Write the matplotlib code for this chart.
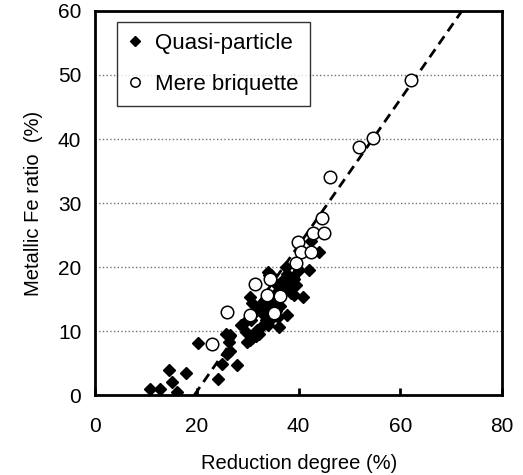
import numpy as np
import matplotlib.pyplot as plt

plt.rcParams['font.family'] = ['Liberation Sans', 'DejaVu Sans']

# Quasi-particle (filled diamonds)
quasi_x = [10.8, 12.7, 16.1, 14.5, 15.1, 17.9, 20.2, 24.1, 25.0, 27.8, 26.0, 26.6,
           26.3, 25.8, 26.6, 28.6, 29.6, 29.9, 30.4, 30.9, 31.6, 32.2, 30.6, 29.2,
           31.2, 31.9, 32.5, 32.9, 33.2, 33.9, 34.2, 32.9, 30.4, 30.9, 33.6, 34.6,
           35.0, 35.5, 36.2, 37.8, 36.8, 37.1, 38.5, 39.1, 38.8, 38.1, 37.1, 37.8,
           37.5, 38.8, 39.5, 39.0, 40.1, 40.8, 42.1, 42.4, 44.1, 33.9, 34.5, 34.1,
           35.8, 36.3, 34.8, 33.5, 31.8, 35.5, 36.0]
quasi_y = [0.9, 0.9, 0.5, 3.9, 2.1, 3.4, 8.2, 2.5, 4.9, 4.7, 6.5, 6.9,
           8.3, 9.6, 9.4, 10.9, 9.9, 8.3, 8.6, 8.9, 9.2, 9.6, 11.7, 11.3,
           12.8, 13.5, 13.8, 10.9, 12.5, 10.9, 13.0, 14.6, 15.3, 14.4, 14.2, 14.8,
           14.1, 15.9, 10.7, 12.6, 16.9, 16.7, 15.9, 15.6, 16.9, 17.7, 18.2, 19.0,
           20.0, 18.5, 17.2, 18.2, 19.5, 15.4, 19.5, 24.0, 22.4, 19.3, 18.8, 18.8,
           17.2, 14.0, 12.0, 11.8, 10.2, 13.2, 12.2]

# Mere briquette (open circles)
mere_x = [62.0, 54.6, 51.9, 46.1, 44.6, 42.9, 45.0, 39.8, 40.4, 42.5, 39.4,
          34.4, 31.4, 33.7, 36.4, 30.4, 35.2, 26.0, 22.9]
mere_y = [49.2, 40.1, 38.7, 34.0, 27.6, 25.4, 25.4, 23.9, 22.4, 22.4, 20.6,
          18.1, 17.4, 15.6, 15.5, 12.5, 12.9, 13.0, 8.0]

# fitted line
slope = 1.14
intercept = -22.2
fit_x = np.array([19.5, 75.0])

fig = plt.figure(figsize=(5.23, 4.75), dpi=100)
ax = fig.add_axes([0.182, 0.168, 0.778, 0.809])

ax.yaxis.grid(True, linestyle=':', color='0.45', linewidth=1.0)
ax.set_axisbelow(True)

ax.plot(fit_x, slope * fit_x + intercept, color='black', lw=2,
        linestyle=(0, (3.5, 2.2)), zorder=2)
ax.plot(quasi_x, quasi_y, 'D', color='black', markersize=6.5,
        linestyle='none', label='Quasi-particle', zorder=3)
ax.plot(mere_x, mere_y, 'o', markerfacecolor='white', markeredgecolor='black',
        markeredgewidth=1.1, markersize=9, linestyle='none',
        label='Mere briquette', zorder=4)

ax.set_xlim(0, 80)
ax.set_ylim(0, 60)
ax.set_xticks([0, 20, 40, 60, 80])
ax.set_yticks([0, 10, 20, 30, 40, 50, 60])
ax.tick_params(axis='x', direction='in', length=5, width=2, pad=16, labelsize=15)
ax.tick_params(axis='y', length=0, pad=10, labelsize=15)
for s in ax.spines.values():
    s.set_linewidth(2)

ax.set_xlabel('Reduction degree (%)', fontsize=14.5, labelpad=13)
ax.set_ylabel('Metallic Fe ratio  (%)', fontsize=14.5, labelpad=11)

leg = ax.legend(loc='upper left', bbox_to_anchor=(0.054, 0.971),
                borderaxespad=0, fontsize=16, frameon=True, fancybox=False,
                edgecolor='black', labelspacing=0.9, handlelength=0.6,
                handletextpad=0.6, borderpad=0.5, markerscale=0.75)
leg.get_frame().set_linewidth(1.0)

plt.savefig('out.png', dpi=100)
